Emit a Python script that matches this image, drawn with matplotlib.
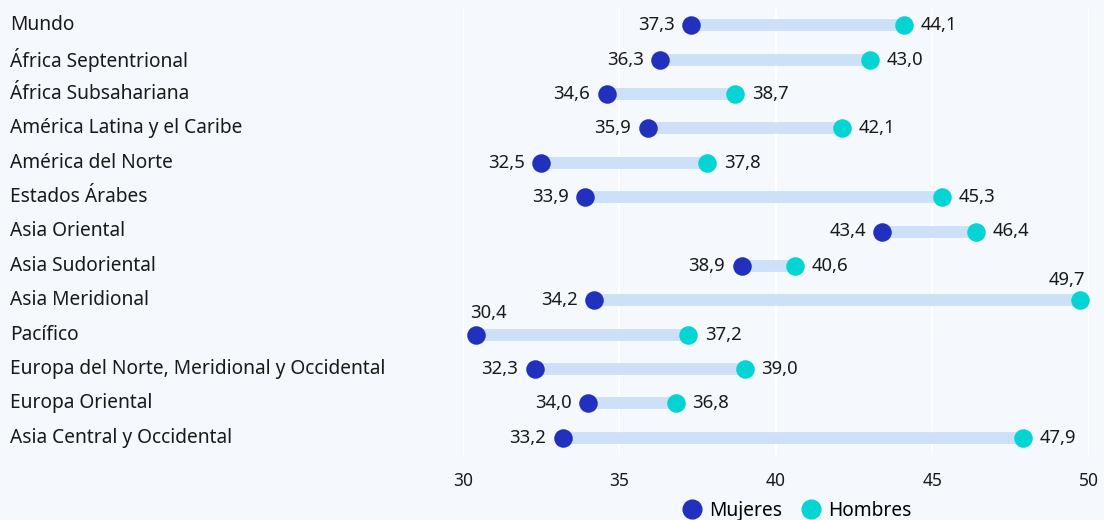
import matplotlib
matplotlib.use("Agg")
import matplotlib.pyplot as plt
import matplotlib.transforms as mtransforms
from matplotlib.lines import Line2D

plt.rcParams['font.family'] = ['Noto Sans', 'DejaVu Sans']

categories = ["Mundo", "África Septentrional", "África Subsahariana",
              "América Latina y el Caribe", "América del Norte", "Estados Árabes",
              "Asia Oriental", "Asia Sudoriental", "Asia Meridional", "Pacífico",
              "Europa del Norte, Meridional y Occidental", "Europa Oriental",
              "Asia Central y Occidental"]
mujeres = [37.3, 36.3, 34.6, 35.9, 32.5, 33.9, 43.4, 38.9, 34.2, 30.4, 32.3, 34.0, 33.2]
hombres = [44.1, 43.0, 38.7, 42.1, 37.8, 45.3, 46.4, 40.6, 49.7, 37.2, 39.0, 36.8, 47.9]
xticks = [30, 35, 40, 45, 50]
series_names = ["Mujeres", "Hombres"]

BG = "#F5F9FE"
C_M = "#2230BE"
C_H = "#05D4D4"
C_BAR = "#CCE1F8"
TXT = "#1a1a1a"

fig = plt.figure(figsize=(11.04, 5.2), dpi=100, facecolor=BG)
ax = fig.add_axes([463/1104, 1-455/520, 626/1104, 447/520], facecolor=BG)

n = len(categories)
ys = list(range(n))
for i in ys:
    ax.plot([mujeres[i], hombres[i]], [i, i], color=C_BAR, lw=8.5,
            solid_capstyle='butt', zorder=2)
ax.scatter(mujeres, ys, s=178, color=C_M, zorder=3, linewidths=0)
ax.scatter(hombres, ys, s=178, color=C_H, zorder=3, linewidths=0)

def fmt(v):
    return f"{v:.1f}".replace(".", ",")

VFS = 13.3
for i in ys:
    m, h = mujeres[i], hombres[i]
    if categories[i] == "Pacífico":
        ax.annotate(fmt(m), (m, i), xytext=(-4, 9), textcoords='offset points',
                    ha='left', va='bottom', fontsize=VFS, color=TXT, zorder=4)
    else:
        ax.annotate(fmt(m), (m, i), xytext=(-12, 0), textcoords='offset points',
                    ha='right', va='center', fontsize=VFS, color=TXT, zorder=4)
    if categories[i] == "Asia Meridional":
        ax.annotate(fmt(h), (h, i), xytext=(4, 8), textcoords='offset points',
                    ha='right', va='bottom', fontsize=VFS, color=TXT, zorder=4)
    else:
        ax.annotate(fmt(h), (h, i), xytext=(12, 0), textcoords='offset points',
                    ha='left', va='center', fontsize=VFS, color=TXT, zorder=4)

ax.set_xlim(30, 50)
ax.set_ylim(n - 0.5, -0.5)
ax.set_xticks(xticks)
ax.set_xticklabels([str(t) for t in xticks], fontsize=12.5, color=TXT)
ax.set_yticks([])
ax.tick_params(axis='x', length=0, pad=12)
ax.grid(axis='x', color='white', lw=1.5, zorder=0)
ax.set_axisbelow(True)
for s in ax.spines.values():
    s.set_visible(False)

trans = mtransforms.blended_transform_factory(fig.transFigure, ax.transData)
for i, c in enumerate(categories):
    ax.text(10/1104, i + 0.0, c, transform=trans, ha='left', va='center',
            fontsize=13.8, color=TXT, clip_on=False)

handles = [Line2D([], [], marker='o', ls='none', color=C_M, markersize=13.5),
           Line2D([], [], marker='o', ls='none', color=C_H, markersize=13.5)]
fig.legend(handles, series_names, loc='center', bbox_to_anchor=(796/1104, 1-511/520),
           ncol=2, frameon=False, fontsize=13.8, handletextpad=0.3,
           columnspacing=0.9, borderaxespad=0, handlelength=1.2)

fig.savefig("out.png", dpi=100, facecolor=BG)
